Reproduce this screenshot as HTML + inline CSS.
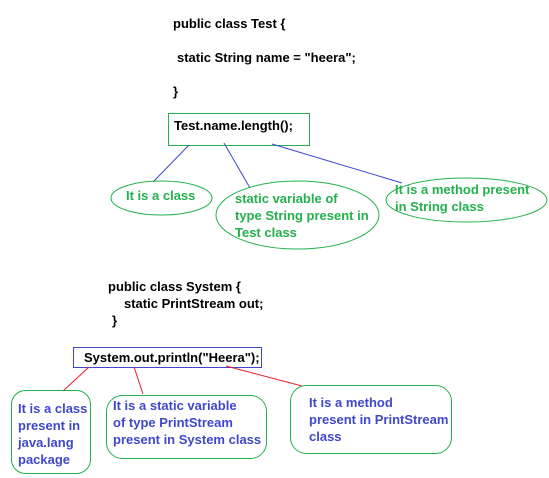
<!DOCTYPE html>
<html><head><meta charset="utf-8"><style>
html,body{margin:0;padding:0;background:#fff;}
svg{display:block;}
text{font-family:"Liberation Sans",Arial,sans-serif;font-weight:bold;font-size:13px;}
</style></head><body>
<svg width="549" height="478" viewBox="0 0 549 478" xmlns="http://www.w3.org/2000/svg">
<g fill="#000">
<text x="173" y="28">public class Test {</text>
<text x="177" y="62">static String name = "heera";</text>
<text x="173" y="96">}</text>
<text x="108" y="291">public class System {</text>
<text x="124" y="308">static PrintStream out;</text>
<text x="112" y="325">}</text>
</g>
<rect x="168.5" y="113.5" width="141" height="32" fill="none" stroke="#22b14c" stroke-width="1"/>
<text x="174" y="130">Test.name.length();</text>
<g stroke="#3f48cc" stroke-width="1">
<line x1="189" y1="145" x2="153" y2="182"/>
<line x1="224" y1="143" x2="250" y2="188"/>
<line x1="272" y1="144" x2="402" y2="183"/>
</g>
<g fill="none" stroke="#22b14c" stroke-width="1">
<ellipse cx="161.5" cy="198" rx="50.5" ry="17"/>
<ellipse cx="297.5" cy="215" rx="81.5" ry="34"/>
<ellipse cx="466.5" cy="200" rx="80.5" ry="22"/>
</g>
<g fill="#22b14c">
<text x="126" y="200">It is a class</text>
<text x="235" y="203">static variable of</text>
<text x="235" y="220">type String present in</text>
<text x="235" y="237">Test class</text>
<text x="395" y="194">It is a method present</text>
<text x="395" y="211">in String class</text>
</g>
<rect x="73.5" y="347.5" width="188" height="20" fill="none" stroke="#3f48cc" stroke-width="1"/>
<text x="84" y="362">System.out.println("Heera");</text>
<g stroke="#ed1c24" stroke-width="1">
<line x1="89" y1="367" x2="63" y2="391"/>
<line x1="134" y1="367" x2="143" y2="394"/>
<line x1="226" y1="366" x2="302" y2="386"/>
</g>
<g fill="none" stroke="#22b14c" stroke-width="1">
<rect x="11.5" y="390.5" width="79" height="83" rx="14"/>
<rect x="106.5" y="395.5" width="160" height="63" rx="16"/>
<rect x="290.5" y="385.5" width="161" height="68" rx="16"/>
</g>
<g fill="#3f48cc">
<text x="18" y="413">It is a class</text>
<text x="18" y="430">present in</text>
<text x="18" y="447">java.lang</text>
<text x="18" y="464">package</text>
<text x="113" y="410">It is a static variable</text>
<text x="113" y="427">of type PrintStream</text>
<text x="113" y="444">present in System class</text>
<text x="309" y="407">It is a method</text>
<text x="309" y="424">present in PrintStream</text>
<text x="309" y="441">class</text>
</g>
</svg>
</body></html>
